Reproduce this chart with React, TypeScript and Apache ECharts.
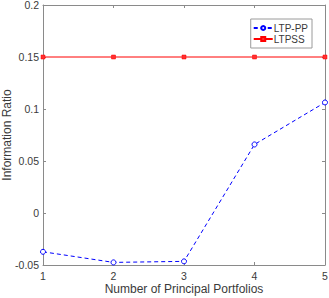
import React, { useEffect, useRef } from "react";
import * as echarts from "echarts";

const xValues = [1, 2, 3, 4, 5];
const ltpPP = [-0.0373, -0.0475, -0.0465, 0.0659, 0.1063];
const ltpSS = [0.15, 0.15, 0.15, 0.15, 0.15];
const seriesNames = ["LTP-PP", "LTPSS"];

const FONT = "Liberation Sans, Arial, sans-serif";
const AXIS_COLOR = "#8a8a8a";
const TEXT_COLOR = "#3a3a3a";

export default function App() {
  const ref = useRef<HTMLDivElement>(null);
  useEffect(() => {
    if (!ref.current) return;
    const chart = echarts.init(ref.current, undefined, { renderer: "svg" });
    const axisCommon = {
      axisLine: { show: true, onZero: false, lineStyle: { color: AXIS_COLOR, width: 1 } },
      axisTick: { show: true, inside: true, length: 3, lineStyle: { color: AXIS_COLOR } },
      splitLine: { show: false },
    };
    chart.setOption({
      animation: false,
      backgroundColor: "#ffffff",
      grid: { left: 43, top: 5, right: 4, bottom: 33, containLabel: false, outerBoundsMode: "none" },
      legend: {
        right: 17,
        top: 19,
        orient: "vertical",
        itemWidth: 19,
        itemHeight: 5,
        itemGap: 1,
        padding: [4, 4, 4, 2],
        borderColor: "#9a9a9a",
        borderWidth: 1,
        textStyle: { fontFamily: FONT, fontSize: 10, lineHeight: 10, color: TEXT_COLOR, padding: [0, 0, 0, -4] },
        data: seriesNames,
      },
      xAxis: [
        {
          type: "value",
          min: 1,
          max: 5,
          interval: 1,
          ...axisCommon,
          axisLabel: { fontFamily: FONT, fontSize: 10.5, color: TEXT_COLOR, margin: 5 },
          name: "Number of Principal Portfolios",
          nameLocation: "middle",
          nameGap: 18,
          nameMoveOverlap: false,
          nameTextStyle: { fontFamily: FONT, fontSize: 12, color: TEXT_COLOR },
        },
        {
          type: "value",
          position: "top",
          min: 1,
          max: 5,
          interval: 1,
          ...axisCommon,
          axisLabel: { show: false },
        },
      ],
      yAxis: [
        {
          type: "value",
          min: -0.05,
          max: 0.2,
          interval: 0.05,
          ...axisCommon,
          axisLabel: {
            fontFamily: FONT,
            fontSize: 10.5,
            color: TEXT_COLOR,
            margin: 4,
            formatter: (v: number) => String(Math.round(v * 100) / 100),
          },
          name: "Information Ratio",
          nameLocation: "middle",
          nameGap: 30,
          nameMoveOverlap: false,
          nameTextStyle: { fontFamily: FONT, fontSize: 12, color: TEXT_COLOR },
        },
        {
          type: "value",
          position: "right",
          min: -0.05,
          max: 0.2,
          interval: 0.05,
          ...axisCommon,
          axisLabel: { show: false },
        },
      ],
      series: [
        {
          name: seriesNames[0],
          type: "line",
          data: xValues.map((x, i) => [x, ltpPP[i]]),
          symbol: "circle",
          symbolSize: 5,
          showAllSymbol: true,
          lineStyle: { color: "#0000ff", width: 1, type: [4, 3] },
          itemStyle: { color: "#ffffff", borderColor: "#0000ff", borderWidth: 1 },
        },
        {
          name: seriesNames[1],
          type: "line",
          data: xValues.map((x, i) => [x, ltpSS[i]]),
          symbol: "rect",
          symbolSize: 4,
          lineStyle: { color: "#ff0000", width: 1 },
          itemStyle: { color: "#ff3030", borderColor: "#ff0000", borderWidth: 0.5 },
        },
      ],
    });
    return () => chart.dispose();
  }, []);
  return <div ref={ref} style={{ width: 329, height: 298, position: "absolute", left: 0, top: 0 }} />;
}
